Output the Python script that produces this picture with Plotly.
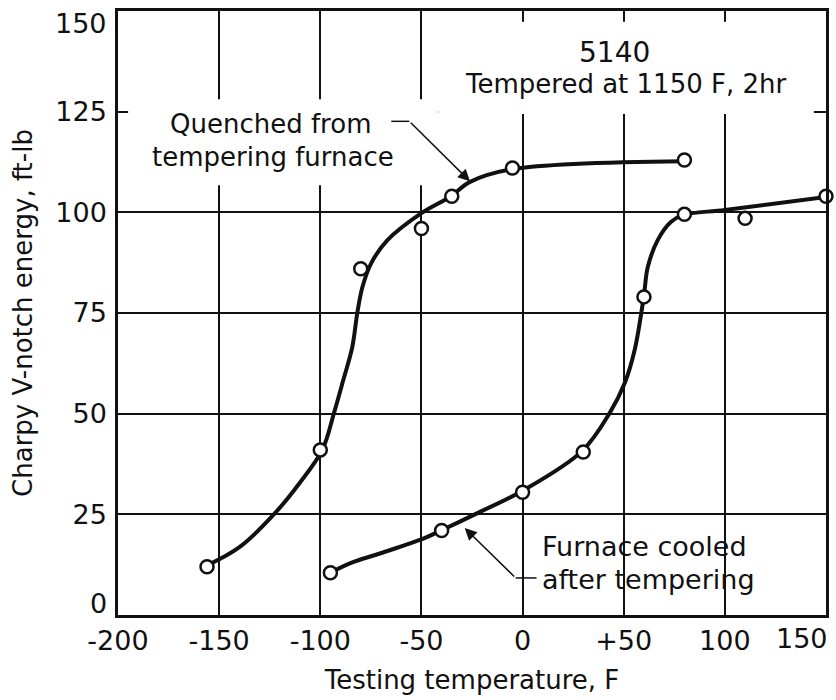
import plotly.graph_objects as go

# ---- data ----
quench_x = [-156, -100, -80, -50, -35, -5, 80]
quench_y = [12, 41, 86, 96, 104, 111, 113]
furnace_x = [-95, -40, 0, 30, 60, 80, 110, 150]
furnace_y = [10.5, 21, 30.5, 40.5, 79, 99.5, 98.5, 104]

# hand-drawn fitted curves
quench_curve_x = [-155.6, -139.8, -122.4, -110.2, -99, -93.1, -88.6, -84.2, -81.7, -79.2,
                  -74.8, -66.8, -50, -35.4, -26.2, -5.3, 79.7]
quench_curve_y = [12.4, 16.9, 25.3, 32.8, 41, 50.4, 58.4, 66.5, 75, 81.4,
                  87.4, 93.1, 99.8, 104, 107.5, 110.7, 112.7]
furnace_curve_x = [-95, -85.1, -69.8, -48.5, -39.8, -22.3, 0.5, 29.4, 43.1, 50.5, 55.4,
                   59.9, 61.9, 66.8, 73.3, 79.2, 100, 150]
furnace_curve_y = [10.5, 12.9, 15.4, 19.1, 21.1, 25.3, 31, 40.7, 50.2, 57.6, 65.8,
                   79, 86.4, 93.1, 97.6, 99.3, 100.6, 103.8]

x_tickvals = [-200, -150, -100, -50, 0, 50, 100]
x_ticktext = ["-200", "-150", "-100", "-50", "0", "+50", "100"]
y_tickvals = [25, 50, 75, 100, 125]

FONT = "DejaVu Sans"
BLACK = "#111111"

fig = go.Figure()

fig.add_trace(go.Scatter(x=quench_curve_x, y=quench_curve_y, mode="lines",
                         line=dict(color=BLACK, width=4, shape="spline", smoothing=1.0),
                         hoverinfo="skip", showlegend=False))
fig.add_trace(go.Scatter(x=furnace_curve_x, y=furnace_curve_y, mode="lines",
                         line=dict(color=BLACK, width=4, shape="spline", smoothing=1.0),
                         hoverinfo="skip", showlegend=False, cliponaxis=False))
fig.add_trace(go.Scatter(x=quench_x, y=quench_y, mode="markers",
                         marker=dict(symbol="circle", size=13, color="white",
                                     line=dict(color=BLACK, width=2.5)),
                         showlegend=False, cliponaxis=False))
fig.add_trace(go.Scatter(x=furnace_x, y=furnace_y, mode="markers",
                         marker=dict(symbol="circle", size=13, color="white",
                                     line=dict(color=BLACK, width=2.5)),
                         showlegend=False, cliponaxis=False))

# white masks that interrupt the grid behind the labels
fig.add_shape(type="rect", x0=-195, x1=-41.6, y0=106.7, y1=128.1,
              fillcolor="white", line=dict(width=0), layer="between")
fig.add_shape(type="rect", x0=-41.6, x1=144, y0=124.4, y1=147.3,
              fillcolor="white", line=dict(width=0), layer="between")

# leader dashes
fig.add_shape(type="line", x0=-64.9, x1=-56, y0=122.6, y1=122.6,
              line=dict(color=BLACK, width=1.5))
fig.add_shape(type="line", x0=-3.4, x1=6.9, y0=9.2, y1=9.2,
              line=dict(color=BLACK, width=1.5))

ann_font = dict(family=FONT, size=26, color=BLACK)
fig.add_annotation(x=45.5, y=139.7, text="5140", showarrow=False,
                   font=dict(family=FONT, size=28, color=BLACK))
fig.add_annotation(x=51, y=131.8, text="Tempered at 1150 F, 2hr", showarrow=False, font=ann_font)
fig.add_annotation(x=-124.4, y=121.9, text="Quenched from", showarrow=False, font=ann_font)
fig.add_annotation(x=-123.4, y=113.7, text="tempering furnace", showarrow=False, font=ann_font)
fig.add_annotation(x=8.6, y=17.1, text="Furnace cooled", showarrow=False, xanchor="left",
                   font=dict(family=FONT, size=27, color=BLACK))
fig.add_annotation(x=8.6, y=8.9, text="after tempering", showarrow=False, xanchor="left",
                   font=dict(family=FONT, size=27, color=BLACK))

# arrows
fig.add_annotation(x=-26, y=107.7, ax=-56, ay=122.6, axref="x", ayref="y", xref="x", yref="y",
                   text="", showarrow=True, arrowhead=2, arrowsize=1.6, arrowwidth=1.5,
                   arrowcolor=BLACK)
fig.add_annotation(x=-28.6, y=21.6, ax=-3.4, ay=9.2, axref="x", ayref="y", xref="x", yref="y",
                   text="", showarrow=True, arrowhead=2, arrowsize=1.6, arrowwidth=1.5,
                   arrowcolor=BLACK)

# end tick labels that sit inside the crop edges in the reference
tick_font = dict(family=FONT, size=27, color=BLACK)
fig.add_annotation(x=150, y=0, xref="x", yref="paper", text="150", showarrow=False,
                   xanchor="right", yanchor="top", yshift=-6, xshift=4, font=tick_font)
fig.add_annotation(x=-200, y=150, xref="x", yref="y", text="150", showarrow=False,
                   xanchor="right", yanchor="top", yshift=5, xshift=-9, font=tick_font)
fig.add_annotation(x=-200, y=0, xref="x", yref="y", text="0", showarrow=False,
                   xanchor="right", yanchor="bottom", yshift=-6, xshift=-9, font=tick_font)

fig.update_xaxes(range=[-200, 150], tickvals=x_tickvals, ticktext=x_ticktext,
                 showgrid=True, gridcolor=BLACK, gridwidth=2, zeroline=False,
                 showline=True, linecolor=BLACK, linewidth=2.5, mirror=True,
                 ticks="", ticklabelstandoff=0, ticklabeloverflow="allow",
                 tickfont=tick_font,
                 title=dict(text="Testing temperature, F", standoff=16,
                            font=dict(family=FONT, size=26, color=BLACK)))
fig.update_yaxes(range=[0, 150], tickvals=y_tickvals,
                 showgrid=True, gridcolor=BLACK, gridwidth=2, zeroline=False,
                 showline=True, linecolor=BLACK, linewidth=2.5, mirror=True,
                 ticks="", ticklabelstandoff=3, ticklabeloverflow="allow",
                 tickfont=tick_font,
                 title=dict(text="Charpy V-notch energy, ft-lb", standoff=16,
                            font=dict(family=FONT, size=26, color=BLACK)))

fig.update_layout(width=836, height=700, plot_bgcolor="white", paper_bgcolor="white",
                  margin=dict(l=118, r=10, t=11, b=85, autoexpand=False),
                  showlegend=False)

fig.write_html("out.html", config={"displayModeBar": False},
               post_script="document.body.style.margin='0';document.body.style.overflow='hidden';")
